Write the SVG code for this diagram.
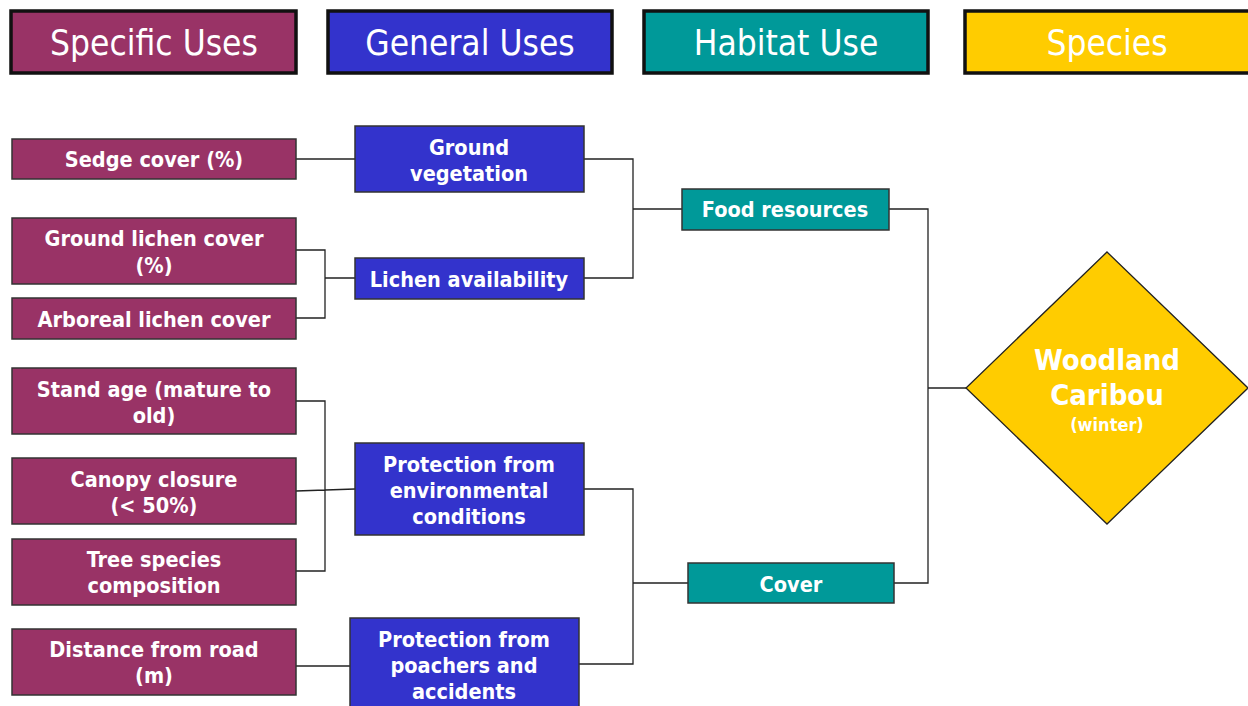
<svg xmlns="http://www.w3.org/2000/svg" width="1248" height="706" viewBox="0 0 1248 706">
<style>
text{font-family:"DejaVu Sans Condensed","DejaVu Sans",sans-serif;fill:#fff;text-anchor:middle}
.h{font-size:35px;font-weight:normal}
.n{font-size:21.5px;font-weight:bold}
.hd{stroke:#111;stroke-width:3.5}
.nb{stroke:#333;stroke-width:1.5}
.m{fill:#993366}.b{fill:#3333CC}.t{fill:#009999}.y{fill:#FFCC00}
.c path{fill:none;stroke:#222;stroke-width:1.3}
</style>
<rect width="1248" height="706" fill="#fff"/>
<g id="hdr-specific"><rect class="hd m" x="11" y="11" width="285" height="62"/><text class="h" x="154" y="55">Specific Uses</text></g>
<g id="hdr-general"><rect class="hd b" x="328" y="11" width="284" height="62"/><text class="h" x="470" y="55">General Uses</text></g>
<g id="hdr-habitat"><rect class="hd t" x="644" y="11" width="284" height="62"/><text class="h" x="786" y="55">Habitat Use</text></g>
<g id="hdr-species"><rect class="hd y" x="965" y="11" width="290" height="62"/><text class="h" x="1107" y="55">Species</text></g>

<g class="c" id="connectors">
<path d="M296,159H355"/>
<path d="M584,159H633V278H584M633,209H682"/>
<path d="M296,250H325V318H296M325,278H355"/>
<path d="M296,401H325V571H296M296,491L355,489"/>
<path d="M584,489H633V664H579M633,583H688"/>
<path d="M296,666H350"/>
<path d="M889,209H928V583H894M928,388H966"/>
</g>

<g id="sedge"><rect class="nb m" x="12" y="139" width="284" height="40"/><text class="n" x="154" y="167">Sedge cover (%)</text></g>
<g id="ground-veg"><rect class="nb b" x="355" y="126" width="229" height="66"/><text class="n" x="469" y="155">Ground</text><text class="n" x="469" y="181">vegetation</text></g>
<g id="ground-lichen"><rect class="nb m" x="12" y="218" width="284" height="66"/><text class="n" x="154" y="246">Ground lichen cover</text><text class="n" x="154" y="273">(%)</text></g>
<g id="arboreal"><rect class="nb m" x="12" y="298" width="284" height="41"/><text class="n" x="154" y="327">Arboreal lichen cover</text></g>
<g id="lichen-avail"><rect class="nb b" x="355" y="258" width="229" height="41"/><text class="n" x="469" y="287">Lichen availability</text></g>
<g id="food"><rect class="nb t" x="682" y="189" width="207" height="41"/><text class="n" x="785" y="217">Food resources</text></g>
<g id="caribou"><polygon points="1107,252 1248,388 1107,524 966,388" fill="#FFCC00" stroke="#222" stroke-width="1.3"/><text x="1107" y="370" style="font-size:29px;font-weight:bold">Woodland</text><text x="1107" y="405" style="font-size:29px;font-weight:bold">Caribou</text><text x="1107" y="431" style="font-size:18px;font-weight:bold">(winter)</text></g>
<g id="stand-age"><rect class="nb m" x="12" y="368" width="284" height="66"/><text class="n" x="154" y="397">Stand age (mature to</text><text class="n" x="154" y="423">old)</text></g>
<g id="canopy"><rect class="nb m" x="12" y="458" width="284" height="66"/><text class="n" x="154" y="487">Canopy closure</text><text class="n" x="154" y="513">(&lt; 50%)</text></g>
<g id="tree-species"><rect class="nb m" x="12" y="539" width="284" height="66"/><text class="n" x="154" y="567">Tree species</text><text class="n" x="154" y="593">composition</text></g>
<g id="distance"><rect class="nb m" x="12" y="629" width="284" height="66"/><text class="n" x="154" y="657">Distance from road</text><text class="n" x="154" y="683">(m)</text></g>
<g id="prot-env"><rect class="nb b" x="355" y="443" width="229" height="92"/><text class="n" x="469" y="472">Protection from</text><text class="n" x="469" y="498">environmental</text><text class="n" x="469" y="524">conditions</text></g>
<g id="prot-poach"><rect class="nb b" x="350" y="618" width="229" height="92"/><text class="n" x="464" y="647">Protection from</text><text class="n" x="464" y="673">poachers and</text><text class="n" x="464" y="699">accidents</text></g>
<g id="cover"><rect class="nb t" x="688" y="563" width="206" height="40"/><text class="n" x="791" y="592">Cover</text></g>
</svg>
